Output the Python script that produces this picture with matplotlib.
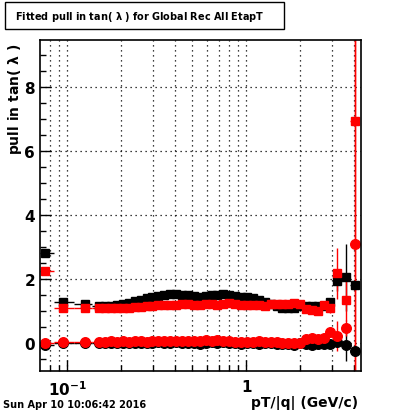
import numpy as np
import matplotlib
matplotlib.use("Agg")
import matplotlib.pyplot as plt
from matplotlib.patches import Rectangle
from matplotlib.ticker import FixedLocator, NullFormatter, FixedFormatter

plt.rcParams['font.family'] = ['DejaVu Sans']
plt.rcParams['font.weight'] = 'bold'
plt.rcParams['mathtext.default'] = 'bf'

# pT/|q| bin centres (GeV/c)
pt = [0.075, 0.095, 0.126,
      0.151, 0.163, 0.176, 0.190, 0.205, 0.221, 0.238, 0.257, 0.277, 0.299,
      0.323, 0.348, 0.376, 0.406, 0.438, 0.472, 0.509, 0.550, 0.593, 0.640,
      0.690, 0.745, 0.804, 0.867, 0.936, 1.009, 1.089, 1.175, 1.268, 1.368,
      1.476, 1.592, 1.718, 1.854, 2.000, 2.158, 2.328, 2.512, 2.710,
      2.93, 3.22, 3.60, 4.03]

# fitted sigma of the pull, black and red sets
sigma_black = [2.80, 1.28, 1.22,
               1.15, 1.15, 1.16, 1.18, 1.21, 1.25, 1.30, 1.35, 1.40, 1.44,
               1.47, 1.50, 1.52, 1.51, 1.49, 1.48, 1.45, 1.44, 1.47, 1.48,
               1.50, 1.52, 1.50, 1.47, 1.44, 1.42, 1.39, 1.34, 1.28, 1.22,
               1.15, 1.10, 1.08, 1.10, 1.14, 1.16, 1.15, 1.14, 1.16,
               1.26, 1.92, 2.05, 1.80]
sigma_red = [2.25, 1.07, 1.07,
             1.07, 1.08, 1.08, 1.08, 1.09, 1.10, 1.11, 1.13, 1.15, 1.16,
             1.17, 1.18, 1.18, 1.19, 1.20, 1.20, 1.18, 1.19, 1.21, 1.20,
             1.18, 1.22, 1.23, 1.21, 1.19, 1.18, 1.17, 1.17, 1.16, 1.20,
             1.21, 1.20, 1.21, 1.24, 1.20, 1.05, 1.02, 1.00, 1.18,
             1.08, 2.17, 1.34, 6.93]

# fitted mean of the pull
mean_black = [-0.08, 0.00, 0.00,
              -0.02, -0.01, 0.00, -0.01, 0.00, -0.02, -0.01, 0.00, -0.01, 0.00,
              0.01, -0.01, 0.00, 0.02, 0.00, -0.01, 0.00, -0.03, 0.00, 0.02,
              -0.02, 0.01, -0.01, 0.00, -0.03, -0.02, 0.00, -0.03, -0.02, 0.00,
              -0.03, -0.05, -0.03, -0.06, -0.02, -0.05, -0.06, -0.04, -0.05,
              -0.03, 0.01, -0.07, -0.25]
mean_red = [-0.02, 0.02, 0.02,
            0.03, 0.03, 0.04, 0.03, 0.04, 0.03, 0.04, 0.04, 0.03, 0.05,
            0.05, 0.04, 0.06, 0.05, 0.06, 0.05, 0.06, 0.06, 0.07, 0.06,
            0.07, 0.05, 0.04, 0.03, 0.02, 0.01, 0.02, 0.04, 0.03, 0.02,
            0.03, 0.00, -0.01, -0.02, 0.00, 0.12, 0.14, 0.13, 0.15,
            0.33, 0.21, 0.46, 3.08]

# errors (only visible on the last few bins)
n_dense = len(pt) - 4
sigma_black_err = [0.0] * n_dense + [0.10, 0.30, 1.05, 0.15]
sigma_red_err = [0.0] * n_dense + [0.15, 0.80, 0.65, 12.0]
mean_black_err = [0.0] * n_dense + [0.10, 0.10, 0.50, 0.10]
mean_red_err = [0.0] * n_dense + [0.10, 0.47, 0.25, 12.0]

x = np.array(pt)
lx = np.log10(x)
edges = np.concatenate([[np.log10(0.0704)], (lx[1:] + lx[:-1]) / 2, [lx[-1] + 0.02]])
xlo = x - 10 ** edges[:-1]
xhi = 10 ** edges[1:] - x

fig = plt.figure(figsize=(4.0, 4.14), dpi=100)
ax = fig.add_axes([0.10, 0.1014, 0.8025, 0.7996])

for s, e, c, m in [(sigma_black, sigma_black_err, 'black', 's'),
                   (mean_black, mean_black_err, 'black', 'o'),
                   (sigma_red, sigma_red_err, 'red', 's'),
                   (mean_red, mean_red_err, 'red', 'o')]:
    ax.errorbar(x, s, yerr=e, xerr=[xlo, xhi], fmt=m, color=c, ms=6.4 if m == 's' else 6.9,
                mec=c, mfc=c, elinewidth=1.0, capsize=0, ls='none')

ax.set_xscale('log')
ax.set_xlim(0.0704, 4.37)
ax.set_ylim(-0.885, 9.46)

ax.yaxis.set_major_locator(FixedLocator([0, 2, 4, 6, 8]))
ax.yaxis.set_minor_locator(FixedLocator(np.arange(-0.5, 9.5, 0.5)))
ax.xaxis.set_major_locator(FixedLocator([0.1, 1]))
ax.xaxis.set_major_formatter(FixedFormatter([r'$10^{-1}$', '1']))
ax.xaxis.set_minor_locator(FixedLocator([0.08, 0.09, 0.2, 0.3, 0.4, 0.5, 0.6, 0.7, 0.8, 0.9, 2, 3, 4]))
ax.xaxis.set_minor_formatter(NullFormatter())

ax.tick_params(which='both', direction='in', top=False, right=False, labelsize=11, width=1)
ax.tick_params(which='major', length=8)
ax.tick_params(which='minor', length=4)
ax.tick_params(axis='x', which='major', pad=6)

ax.grid(True, which='major', axis='y', ls=(0, (1, 3)), color='black', lw=0.9)
ax.grid(True, which='both', axis='x', ls=(0, (1, 3)), color='black', lw=0.9)
for sp in ax.spines.values():
    sp.set_linewidth(1.2)

fig.text(15 / 400, 1 - 44 / 414, 'pull in tan( $\\lambda$ )', rotation=90, ha='center', va='top',
         fontsize=10, fontweight='bold')
fig.text(358 / 400, 1 - 403 / 414, 'pT/|q| (GeV/c)', ha='right', va='center',
         fontsize=10, fontweight='bold')

fig.patches.append(Rectangle((5 / 400, 1 - 30 / 414), 279 / 400, 27 / 414,
                             transform=fig.transFigure, fill=False, lw=1, ec='black'))
fig.text(140 / 400, 1 - 17 / 414, 'Fitted pull in tan( $\\lambda$ ) for Global Rec All EtapT',
         ha='center', va='center', fontsize=7, fontweight='bold')
fig.text(3 / 400, 1 - 405 / 414, 'Sun Apr 10 10:06:42 2016', ha='left', va='center',
         fontsize=7, fontweight='bold')

fig.savefig('out.png', dpi=100)
